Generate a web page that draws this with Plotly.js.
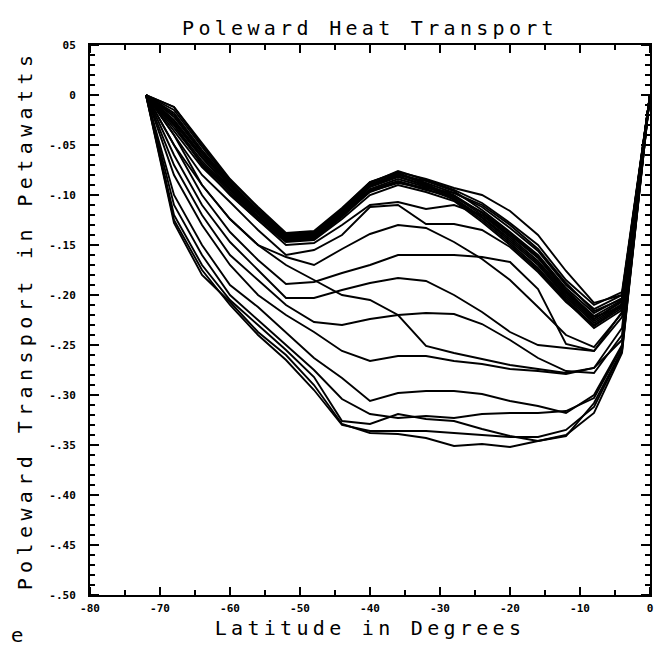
<!DOCTYPE html>
<html>
<head>
<meta charset="utf-8">
<script src="https://cdn.plot.ly/plotly-3.0.1.min.js"></script>
<style>
  html, body { margin: 0; padding: 0; background: #fff; }
  #chart { width: 655px; height: 646px; }
</style>
</head>
<body>
<div id="chart"></div>
<script>
// Latitude grid (degrees)
const lat = [-72, -68, -64, -60, -56, -52, -48, -44, -40, -36, -32, -28, -24, -20, -16, -12, -8, -4, 0];

// Upper bundle of curves (Petawatts)
const c01 = [0, -0.012, -0.050, -0.085, -0.113, -0.139, -0.137, -0.115, -0.088, -0.076, -0.085, -0.095, -0.108, -0.128, -0.150, -0.185, -0.210, -0.197, 0];
const c02 = [0, -0.018, -0.055, -0.088, -0.115, -0.140, -0.138, -0.114, -0.087, -0.078, -0.088, -0.098, -0.112, -0.133, -0.156, -0.190, -0.214, -0.200, 0];
const c03 = [0, -0.022, -0.058, -0.090, -0.117, -0.141, -0.139, -0.116, -0.090, -0.080, -0.086, -0.096, -0.115, -0.137, -0.160, -0.193, -0.218, -0.203, 0];
const c04 = [0, -0.025, -0.060, -0.091, -0.118, -0.142, -0.140, -0.118, -0.092, -0.082, -0.090, -0.100, -0.118, -0.140, -0.163, -0.196, -0.221, -0.205, 0];
const c05 = [0, -0.028, -0.063, -0.093, -0.119, -0.143, -0.141, -0.119, -0.094, -0.084, -0.092, -0.101, -0.120, -0.142, -0.166, -0.198, -0.224, -0.207, 0];
const c06 = [0, -0.015, -0.052, -0.087, -0.116, -0.140, -0.139, -0.117, -0.089, -0.079, -0.089, -0.103, -0.122, -0.144, -0.168, -0.200, -0.226, -0.209, 0];
const c07 = [0, -0.030, -0.066, -0.095, -0.121, -0.144, -0.142, -0.120, -0.095, -0.086, -0.094, -0.104, -0.123, -0.146, -0.170, -0.202, -0.228, -0.210, 0];
const c08 = [0, -0.033, -0.068, -0.097, -0.123, -0.145, -0.143, -0.121, -0.097, -0.087, -0.095, -0.102, -0.117, -0.138, -0.162, -0.195, -0.222, -0.212, 0];
const c09 = [0, -0.020, -0.057, -0.089, -0.118, -0.143, -0.141, -0.118, -0.091, -0.081, -0.091, -0.105, -0.125, -0.148, -0.173, -0.204, -0.231, -0.213, 0];
const c10 = [0, -0.036, -0.072, -0.099, -0.125, -0.147, -0.145, -0.124, -0.100, -0.090, -0.097, -0.106, -0.127, -0.150, -0.175, -0.206, -0.233, -0.215, 0];
const c11 = [0, -0.026, -0.062, -0.094, -0.122, -0.146, -0.144, -0.122, -0.096, -0.088, -0.093, -0.098, -0.110, -0.130, -0.154, -0.188, -0.216, -0.204, 0];
const c12 = [0, -0.012, -0.048, -0.084, -0.112, -0.138, -0.136, -0.113, -0.087, -0.077, -0.084, -0.093, -0.100, -0.116, -0.140, -0.176, -0.208, -0.200, 0];

// Lower, spread-out curves (Petawatts)
const l01 = [0, -0.030, -0.070, -0.100, -0.125, -0.150, -0.148, -0.130, -0.110, -0.107, -0.114, -0.110, -0.120, -0.140, -0.162, -0.197, -0.224, -0.206, 0];
const l02 = [0, -0.040, -0.080, -0.107, -0.135, -0.160, -0.155, -0.140, -0.112, -0.110, -0.129, -0.129, -0.135, -0.152, -0.177, -0.207, -0.230, -0.211, 0];
const l03 = [0, -0.050, -0.090, -0.124, -0.150, -0.162, -0.170, -0.154, -0.139, -0.130, -0.133, -0.147, -0.164, -0.185, -0.212, -0.240, -0.252, -0.218, 0];
const l04 = [0, -0.050, -0.100, -0.137, -0.165, -0.189, -0.187, -0.178, -0.170, -0.160, -0.160, -0.160, -0.162, -0.167, -0.194, -0.249, -0.256, -0.217, 0];
const l05 = [0, -0.060, -0.110, -0.147, -0.175, -0.203, -0.203, -0.195, -0.188, -0.183, -0.186, -0.200, -0.217, -0.237, -0.250, -0.253, -0.256, -0.222, 0];
const l06 = [0, -0.040, -0.090, -0.124, -0.150, -0.170, -0.185, -0.200, -0.205, -0.220, -0.251, -0.258, -0.264, -0.270, -0.274, -0.278, -0.273, -0.233, 0];
const l07 = [0, -0.070, -0.120, -0.160, -0.185, -0.210, -0.227, -0.230, -0.224, -0.220, -0.218, -0.219, -0.229, -0.245, -0.263, -0.276, -0.278, -0.240, 0];
const l08 = [0, -0.080, -0.130, -0.170, -0.200, -0.220, -0.237, -0.256, -0.266, -0.261, -0.261, -0.266, -0.269, -0.274, -0.276, -0.279, -0.273, -0.245, 0];
const l09 = [0, -0.100, -0.150, -0.190, -0.212, -0.237, -0.263, -0.283, -0.306, -0.298, -0.296, -0.296, -0.299, -0.306, -0.311, -0.318, -0.300, -0.250, 0];
const l10 = [0, -0.110, -0.160, -0.200, -0.225, -0.250, -0.275, -0.304, -0.319, -0.323, -0.321, -0.323, -0.319, -0.318, -0.318, -0.316, -0.303, -0.252, 0];
const l11 = [0, -0.120, -0.170, -0.205, -0.230, -0.255, -0.282, -0.326, -0.329, -0.319, -0.324, -0.326, -0.334, -0.341, -0.346, -0.341, -0.308, -0.255, 0];
const l12 = [0, -0.128, -0.180, -0.207, -0.237, -0.260, -0.290, -0.329, -0.338, -0.339, -0.343, -0.351, -0.349, -0.352, -0.346, -0.340, -0.318, -0.258, 0];
const l13 = [0, -0.125, -0.175, -0.210, -0.240, -0.265, -0.295, -0.330, -0.336, -0.336, -0.336, -0.338, -0.340, -0.342, -0.342, -0.335, -0.312, -0.256, 0];

const series = [c01, c02, c03, c04, c05, c06, c07, c08, c09, c10, c11, c12,
                l01, l02, l03, l04, l05, l06, l07, l08, l09, l10, l11, l12, l13];

// Tick labels
const xTickVals = [-80, -70, -60, -50, -40, -30, -20, -10, 0];
const xTickText = ["-80", "-70", "-60", "-50", "-40", "-30", "-20", "-10", "0"];
const xMinorVals = [-75, -65, -55, -45, -35, -25, -15, -5];
const yTickVals = [0.05, 0, -0.05, -0.10, -0.15, -0.20, -0.25, -0.30, -0.35, -0.40, -0.45, -0.50];
const yTickText = ["05", "0", "-.05", "-.10", "-.15", "-.20", "-.25", "-.30", "-.35", "-.40", "-.45", "-.50"];

const traces = series.map(s => ({
  x: lat, y: s, type: 'scatter', mode: 'lines',
  line: { color: '#000', width: 1.9 },
  hoverinfo: 'skip', showlegend: false
}));

// Inward-pointing tick marks on all four sides, positioned through the axes
const PW = 560, PH = 550;
const shapes = [];
function xTick(v, len) {
  shapes.push({ type: 'line', xref: 'x', yref: 'paper', x0: v, x1: v, y0: 0, y1: len / PH, line: { color: '#000', width: 2 } });
  shapes.push({ type: 'line', xref: 'x', yref: 'paper', x0: v, x1: v, y0: 1, y1: 1 - len / PH, line: { color: '#000', width: 2 } });
}
function yTick(v, len) {
  shapes.push({ type: 'line', xref: 'paper', yref: 'y', x0: 0, x1: len / PW, y0: v, y1: v, line: { color: '#000', width: 2 } });
  shapes.push({ type: 'line', xref: 'paper', yref: 'y', x0: 1, x1: 1 - len / PW, y0: v, y1: v, line: { color: '#000', width: 2 } });
}
xTickVals.forEach(v => xTick(v, 8));
xMinorVals.forEach(v => xTick(v, 5));
for (let k = -50; k <= 5; k++) {
  yTick(k / 100, k % 5 === 0 ? 9 : 5);
}

const tickFont = { family: 'DejaVu Sans Mono', size: 11, color: '#000', weight: 'bold' };
const titleFont = { family: 'DejaVu Sans Mono', size: 20, color: '#000' };

const layout = {
  width: 655, height: 646,
  margin: { l: 90, r: 5, t: 45, b: 51 },
  paper_bgcolor: '#fff', plot_bgcolor: '#fff',
  showlegend: false,
  hovermode: false,
  title: { text: 'Poleward Heat Transport', font: titleFont, x: 0.5, xref: 'paper', xanchor: 'center', y: 0.957, yref: 'container', yanchor: 'middle' },
  xaxis: {
    range: [-80, 0], showgrid: false, zeroline: false,
    showline: true, linecolor: '#000', linewidth: 2, mirror: true,
    tickmode: 'array', tickvals: xTickVals, ticktext: xTickText, tickfont: tickFont,
    ticks: '', ticklabelstandoff: 2,
    title: { text: 'Latitude in Degrees', font: titleFont, standoff: 7 },
    automargin: false
  },
  yaxis: {
    range: [-0.5, 0.05], showgrid: false, zeroline: false,
    showline: true, linecolor: '#000', linewidth: 2, mirror: true,
    tickmode: 'array', tickvals: yTickVals, ticktext: yTickText, tickfont: tickFont,
    ticks: '', ticklabelstandoff: 10,
    title: { text: 'Poleward Transport in Petawatts', font: titleFont, standoff: 11 },
    automargin: false
  },
  shapes: shapes,
  annotations: [{
    text: 'e', xref: 'paper', yref: 'paper',
    x: (17 - 90) / 560, y: (595 - 635) / 550,
    xanchor: 'center', yanchor: 'middle', showarrow: false,
    font: { family: 'DejaVu Sans', size: 20, color: '#000' }
  }]
};

Plotly.newPlot('chart', traces, layout, { staticPlot: true, displayModeBar: false }).then(() => {
  document.querySelectorAll('.gtitle, .xtitle').forEach(el => {
    el.style.letterSpacing = '4.3px';
  });
  document.querySelectorAll('.ytitle').forEach(el => {
    el.style.letterSpacing = '5.4px';
  });
});
</script>
</body>
</html>
